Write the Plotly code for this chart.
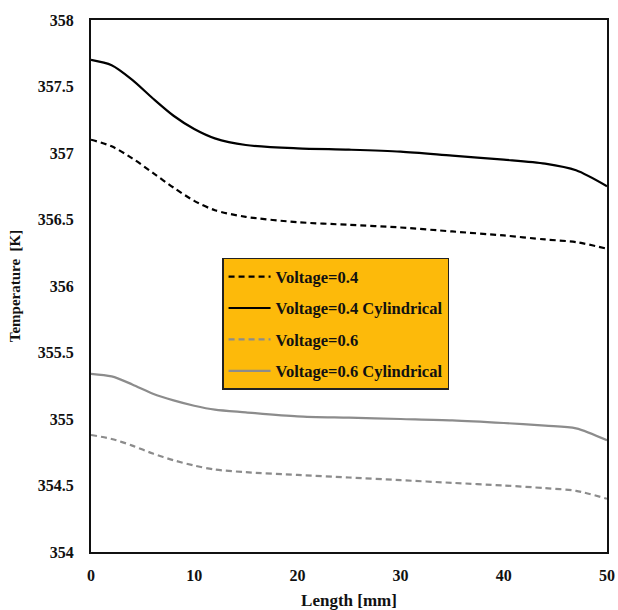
import plotly.graph_objects as go

length_mm = [0, 2, 4, 6, 8, 10, 12, 15, 20, 25, 30, 35, 40, 44, 47, 50]

v04 = [357.10, 357.05, 356.96, 356.85, 356.74, 356.64, 356.57, 356.52, 356.48, 356.46, 356.44, 356.41, 356.38, 356.35, 356.33, 356.28]
v04_cyl = [357.70, 357.66, 357.55, 357.41, 357.28, 357.18, 357.11, 357.06, 357.035, 357.025, 357.01, 356.98, 356.95, 356.92, 356.87, 356.75]
v06 = [354.88, 354.85, 354.80, 354.74, 354.69, 354.65, 354.62, 354.60, 354.58, 354.56, 354.54, 354.52, 354.50, 354.48, 354.46, 354.40]
v06_cyl = [355.34, 355.32, 355.26, 355.19, 355.14, 355.10, 355.07, 355.05, 355.02, 355.01, 355.00, 354.99, 354.97, 354.95, 354.93, 354.84]

series_names = ["Voltage=0.4", "Voltage=0.4 Cylindrical", "Voltage=0.6", "Voltage=0.6 Cylindrical"]
series_values = [v04, v04_cyl, v06, v06_cyl]
series_colors = ["#000000", "#000000", "#8c8c8c", "#8c8c8c"]
series_dash = ["6px,4px", "solid", "6px,4px", "solid"]

font_family = "Liberation Serif"

fig = go.Figure()
for i, (name, vals, col, dash) in enumerate(zip(series_names, series_values, series_colors, series_dash)):
    fig.add_trace(go.Scatter(
        x=length_mm, y=vals, mode="lines", name=name,
        line=dict(color=col, width=2.2, dash=dash, shape="spline", smoothing=0.8),
        legendgroup=f"g{i}",
    ))

fig.update_layout(
    width=618, height=610,
    margin=dict(l=91, r=11, t=20, b=58),
    plot_bgcolor="white", paper_bgcolor="white",
    font=dict(family=font_family, size=14, color="#111111"),
    showlegend=True,
    legend=dict(
        x=0.254, y=0.553, xanchor="left", yanchor="top",
        bgcolor="#FDBA0A", bordercolor="#222222", borderwidth=1.5,
        font=dict(family=font_family, size=16.5, color="#111111", weight="bold"),
        tracegroupgap=7, itemwidth=42,
    ),
    xaxis=dict(
        range=[0, 50], tickvals=[0, 10, 20, 30, 40, 50],
        showgrid=False, zeroline=False, showline=True, linecolor="#111111", linewidth=2,
        mirror=True, ticks="", automargin=False, ticklabelstandoff=8,
        tickfont=dict(family=font_family, size=16, weight="bold"),
        title=dict(text="<b>Length [mm]</b>", font=dict(family=font_family, size=17), standoff=12),
    ),
    yaxis=dict(
        range=[354, 358], tickvals=[354, 354.5, 355, 355.5, 356, 356.5, 357, 357.5, 358],
        ticktext=["354", "354.5", "355", "355.5", "356", "356.5", "357", "357.5", "358"],
        showgrid=False, zeroline=False, showline=True, linecolor="#111111", linewidth=2,
        mirror=True, ticks="", ticklabelstandoff=12, automargin=False,
        tickfont=dict(family=font_family, size=16, weight="bold"),
        title=dict(text="<b>Temperature  [K]</b>", font=dict(family=font_family, size=15), standoff=14),
    ),
)

fig.write_html("out.html", config={"displayModeBar": False},
               post_script="document.body.style.margin='0';document.body.style.overflow='hidden';")
